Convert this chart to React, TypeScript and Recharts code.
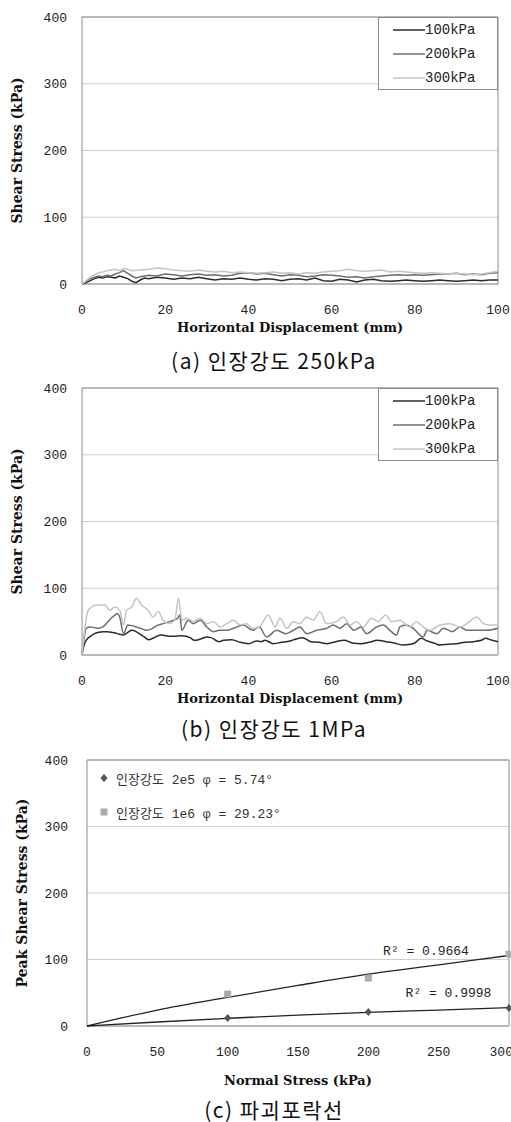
import React from "react";
import {
  LineChart,
  ComposedChart,
  Line,
  Scatter,
  XAxis,
  YAxis,
  CartesianGrid,
  ReferenceArea,
  ReferenceDot,
  Legend,
  Label,
} from "recharts";

const MONO = '"Liberation Mono", "DejaVu Sans Mono", monospace';
const SERIF = '"DejaVu Serif", "Liberation Serif", serif';
const KR = '"Noto Sans CJK KR", "Noto Sans", sans-serif';

// axis ticks
const displacementTicks = [0, 20, 40, 60, 80, 100];
const stressTicks = [0, 100, 200, 300, 400];
const normalStressTicks = [0, 50, 100, 150, 200, 250, 300];

const normalLoads = ["100kPa", "200kPa", "300kPa"];
const loadColors = ["#2b2b2b", "#6e6e6e", "#c4c4c4"];

// (a) tensile strength 250kPa : [displacement mm, shear stress kPa]
const t250_100: [number, number][] = [
  [0, 0], [1, 2], [2, 5], [3, 8], [4, 10], [5, 9], [6, 11], [7, 10], [8, 9], [9, 12],
  [10, 10], [11, 8], [12, 4], [13, 2], [14, 6], [15, 9], [16, 8], [18, 10], [20, 9],
  [22, 7], [24, 9], [26, 8], [28, 10], [30, 8], [32, 6], [34, 8], [36, 7], [38, 9],
  [40, 7], [42, 6], [44, 8], [46, 7], [48, 5], [50, 7], [52, 8], [54, 6], [56, 9],
  [58, 5], [60, 4], [62, 7], [64, 6], [66, 3], [68, 6], [70, 7], [72, 5], [74, 4],
  [76, 5], [78, 6], [80, 5], [82, 4], [84, 5], [86, 6], [88, 5], [90, 4], [92, 5],
  [94, 6], [96, 5], [98, 6], [100, 6],
];
const t250_200: [number, number][] = [
  [0, 0], [1, 4], [2, 8], [3, 10], [4, 12], [5, 11], [6, 13], [7, 12], [8, 15], [9, 17],
  [10, 20], [11, 16], [12, 12], [13, 9], [14, 11], [15, 12], [16, 13], [18, 12], [20, 15],
  [22, 14], [24, 12], [26, 14], [28, 15], [30, 13], [32, 14], [34, 12], [36, 13], [38, 16],
  [40, 17], [42, 15], [44, 16], [46, 14], [48, 12], [50, 14], [52, 13], [54, 11], [56, 12],
  [58, 14], [60, 13], [62, 12], [64, 10], [66, 11], [68, 9], [70, 11], [72, 12], [74, 13],
  [76, 14], [78, 13], [80, 14], [82, 13], [84, 14], [86, 15], [88, 15], [90, 16], [92, 14],
  [94, 15], [96, 14], [98, 16], [100, 17],
];
const t250_300: [number, number][] = [
  [0, 0], [1, 5], [2, 10], [3, 14], [4, 17], [5, 18], [6, 20], [7, 21], [8, 22], [9, 20],
  [10, 23], [11, 22], [12, 20], [14, 21], [16, 22], [18, 24], [20, 23], [22, 21], [24, 20],
  [26, 19], [28, 21], [30, 19], [32, 18], [34, 19], [36, 17], [38, 18], [40, 17], [42, 16],
  [44, 17], [46, 18], [48, 16], [50, 17], [52, 15], [54, 17], [56, 16], [58, 18], [60, 19],
  [62, 20], [64, 22], [66, 20], [68, 19], [70, 20], [72, 21], [74, 18], [76, 19], [78, 18],
  [80, 17], [82, 16], [84, 17], [86, 16], [88, 15], [90, 16], [92, 15], [94, 14], [96, 15],
  [98, 17], [100, 19],
];

// (b) tensile strength 1MPa
const t1m_100: [number, number][] = [
  [0, 0], [0.5, 15], [1, 22], [2, 28], [3, 32], [4, 34], [5, 35], [6, 35], [7, 34], [8, 33],
  [9, 31], [10, 30], [11, 34], [12, 37], [13, 35], [14, 31], [15, 27], [16, 23], [17, 25],
  [18, 28], [19, 30], [20, 29], [22, 28], [24, 29], [26, 26], [27, 22], [28, 23], [29, 25],
  [30, 27], [31, 26], [33, 20], [34, 22], [36, 23], [38, 19], [40, 17], [42, 21], [43, 20],
  [44, 22], [46, 17], [48, 19], [50, 21], [51, 23], [53, 26], [55, 20], [57, 19], [59, 17],
  [61, 20], [63, 22], [65, 18], [67, 17], [69, 19], [71, 22], [73, 20], [75, 18], [77, 15],
  [79, 16], [80, 18], [81.5, 25], [83, 21], [85, 17], [86, 15], [88, 16], [90, 17], [92, 19],
  [94, 20], [96, 22], [97, 25], [98.5, 22], [100, 20],
];
const t1m_200: [number, number][] = [
  [0, 0], [0.5, 25], [1, 40], [2, 42], [3, 41], [4, 40], [5, 42], [6, 48], [7, 55], [8, 60],
  [8.5, 62], [9, 58], [10, 32], [11, 45], [12, 44], [13, 42], [14, 40], [15.5, 37], [17, 40],
  [18, 44], [19.5, 47], [21, 50], [22, 52], [23, 55], [23.5, 60], [24, 37], [25.5, 52],
  [26.8, 47], [28.4, 52], [30, 42], [31.6, 35], [33, 37], [34.8, 37], [36.4, 40], [38.8, 45],
  [41, 37], [42.6, 42], [44.4, 27], [46.8, 37], [49, 32], [50.8, 37], [52.4, 42], [54, 32],
  [56.4, 37], [58.8, 40], [60.4, 45], [62, 40], [63.6, 47], [65.4, 37], [67, 42], [68.4, 32],
  [70.8, 42], [72.4, 45], [74, 37], [75.6, 30], [76.4, 42], [78, 45], [79.6, 40], [82, 27],
  [83, 37], [85.3, 32], [86.9, 40], [89, 35], [90.9, 42], [92.5, 37], [94.9, 37], [97.3, 37],
  [100, 40],
];
const t1m_300: [number, number][] = [
  [0, 0], [0.5, 30], [1.5, 67], [3.5, 75], [5.5, 75], [6.7, 67], [7.9, 72], [9.1, 67], [10, 45],
  [10.7, 67], [12, 72], [13.1, 85], [14.3, 75], [15.9, 67], [17.1, 57], [18.3, 65], [19.5, 52],
  [21, 47], [22.3, 52], [23.2, 85], [24, 52], [25.2, 55], [26.8, 50], [28.4, 55], [30, 47],
  [31.6, 50], [33.2, 42], [34.8, 47], [36.4, 52], [38, 45], [39.6, 47], [41, 40], [42.6, 42],
  [44.8, 60], [46.4, 42], [47.6, 55], [49.2, 40], [50.8, 50], [52.4, 47], [54, 57], [55.6, 52],
  [57.2, 65], [58.8, 47], [61.2, 50], [62.8, 57], [64.4, 45], [66, 50], [67.6, 42], [69.6, 55],
  [71.2, 50], [73, 60], [74.4, 50], [76.4, 52], [78.8, 42], [80.4, 50], [82, 42], [83.6, 37],
  [86, 45], [88.5, 47], [90.9, 42], [92.5, 47], [94.9, 57], [96.5, 47], [98, 45], [100, 45],
];

// (c) failure envelope : [normal stress kPa, peak shear stress kPa]
const envelopeNames = ["인장강도 2e5 φ = 5.74°", "인장강도 1e6 φ = 29.23°"];
const peaks2e5: [number, number][] = [[100, 12], [200, 21], [300, 27]];
const peaks1e6: [number, number][] = [[100, 48], [200, 72], [300, 108]];
const trend2e5: [number, number][] = [[0, 0], [50, 6], [100, 11.5], [150, 16.5], [200, 20.5], [250, 24], [300, 27.5]];
const trend1e6: [number, number][] = [[0, 0], [50, 24], [100, 43], [150, 61], [200, 78], [250, 92], [300, 106]];
const rSquared = ["R² = 0.9998", "R² = 0.9664"];

const toPts = (arr: [number, number][]) => arr.map(([x, y]) => ({ x, y }));

const tickStyle = { fontFamily: MONO, fontSize: 13, fill: "#222" };
const titleStyle = { fontFamily: SERIF, fontSize: 13, fontWeight: 700, fill: "#111" };

const LoadLegend = () => (
  <div
    style={{
      width: 120,
      height: 73,
      border: "1px solid #8c8c8c",
      boxSizing: "border-box",
      background: "#fff",
      position: "relative",
    }}
  >
    {normalLoads.map((name, i) => (
      <div
        key={name}
        style={{
          position: "absolute",
          left: 14,
          top: 12 + i * 24 - 9,
          height: 18,
          display: "flex",
          alignItems: "center",
          fontFamily: MONO,
          fontSize: 14,
          color: "#222",
        }}
      >
        <svg width={32} height={4}>
          <line x1={0} y1={2} x2={32} y2={2} stroke={loadColors[i]} strokeWidth={1.5} />
        </svg>
        <span>{name}</span>
      </div>
    ))}
  </div>
);

const ShearPanel = ({
  series,
  top,
  curve,
}: {
  series: [number, number][][];
  top: number;
  curve: "linear" | "monotone";
}) => (
  <div style={{ position: "absolute", left: 0, top }}>
    <LineChart width={511} height={340} margin={{ top: 17, right: 13, left: 0, bottom: 0 }}>
      <CartesianGrid vertical={false} stroke="#cfcfcf" />
      <XAxis
        type="number"
        dataKey="x"
        domain={[0, 100]}
        ticks={displacementTicks}
        height={56}
        axisLine={false}
        tickLine={false}
        tickSize={0}
        tickMargin={21}
        tick={tickStyle}
      >
        <Label value="Horizontal Displacement (mm)" position="insideBottom" offset={8} style={titleStyle} />
      </XAxis>
      <YAxis
        type="number"
        domain={[0, 400]}
        ticks={stressTicks}
        width={82}
        axisLine={false}
        tickLine={false}
        tickSize={0}
        tickMargin={15}
        tick={tickStyle}
      >
        <Label
          value="Shear Stress (kPa)"
          angle={-90}
          position="insideLeft"
          offset={17}
          style={{ ...titleStyle, fontSize: 14, textAnchor: "middle" }}
        />
      </YAxis>
      <ReferenceArea x1={0} x2={100} y1={0} y2={400} fill="none" fillOpacity={0} stroke="#8c8c8c" />
      {series.map((s, i) => (
        <Line
          key={normalLoads[i]}
          data={toPts(s)}
          dataKey="y"
          name={normalLoads[i]}
          type={curve}
          stroke={loadColors[i]}
          strokeWidth={1.5}
          dot={false}
          isAnimationActive={false}
        />
      ))}
      <Legend
        layout="horizontal"
        align="center"
        verticalAlign="middle"
        wrapperStyle={{ left: 378, top: 17, width: 120, height: 73 }}
        content={() => <LoadLegend />}
      />
    </LineChart>
  </div>
);

const Diamond = (p: any) => (
  <path d={`M${p.cx},${p.cy - 4}L${p.cx + 3.5},${p.cy}L${p.cx},${p.cy + 4}L${p.cx - 3.5},${p.cy}Z`} fill="#555" />
);
const Square = (p: any) => <rect x={p.cx - 3.5} y={p.cy - 3.5} width={7} height={7} fill="#ababab" />;

const EnvelopeLegend = () => (
  <div style={{ fontFamily: MONO, fontSize: 13, color: "#333" }}>
    {envelopeNames.map((name, i) => (
      <div key={name} style={{ display: "flex", alignItems: "center", height: 18, marginBottom: i === 0 ? 16 : 0 }}>
        <svg width={18} height={10}>
          {i === 0 ? (
            <path d="M6,1L9.5,5L6,9L2.5,5Z" fill="#555" />
          ) : (
            <rect x={2.5} y={1.5} width={7} height={7} fill="#ababab" />
          )}
        </svg>
        <span style={{ fontFamily: `${MONO}, ${KR}` }}>{name}</span>
      </div>
    ))}
  </div>
);

const EnvelopePanel = ({ top }: { top: number }) => (
  <div style={{ position: "absolute", left: 0, top }}>
    <ComposedChart width={511} height={353} margin={{ top: 17, right: 2, left: 0, bottom: 0 }}>
      <CartesianGrid vertical={false} stroke="#cfcfcf" />
      <XAxis
        type="number"
        dataKey="x"
        domain={[0, 300]}
        ticks={normalStressTicks}
        height={70}
        axisLine={false}
        tickLine={false}
        tickSize={0}
        tickMargin={21}
        tick={tickStyle}
      >
        <Label value="Normal Stress (kPa)" position="insideBottom" offset={11} style={titleStyle} />
      </XAxis>
      <YAxis
        type="number"
        domain={[0, 400]}
        ticks={stressTicks}
        width={87}
        axisLine={false}
        tickLine={false}
        tickSize={0}
        tickMargin={19}
        tick={tickStyle}
      >
        <Label
          value="Peak Shear Stress (kPa)"
          angle={-90}
          position="insideLeft"
          offset={22}
          style={{ ...titleStyle, fontSize: 14, textAnchor: "middle" }}
        />
      </YAxis>
      <ReferenceArea x1={0} x2={300} y1={0} y2={400} fill="none" fillOpacity={0} stroke="#8c8c8c" />
      <Line data={toPts(trend2e5)} dataKey="y" type="monotone" stroke="#222" strokeWidth={1.3} dot={false} isAnimationActive={false} />
      <Line data={toPts(trend1e6)} dataKey="y" type="monotone" stroke="#222" strokeWidth={1.3} dot={false} isAnimationActive={false} />
      <Scatter data={toPts(peaks2e5)} dataKey="y" shape={Diamond} isAnimationActive={false} />
      <Scatter data={toPts(peaks1e6)} dataKey="y" shape={Square} isAnimationActive={false} />
      <ReferenceDot x={257} y={50} r={0} fill="none" stroke="none">
        <Label value={rSquared[0]} position="center" style={{ fontFamily: MONO, fontSize: 13, fill: "#222" }} />
      </ReferenceDot>
      <ReferenceDot x={241} y={114} r={0} fill="none" stroke="none">
        <Label value={rSquared[1]} position="center" style={{ fontFamily: MONO, fontSize: 13, fill: "#222" }} />
      </ReferenceDot>
      <Legend
        layout="horizontal"
        align="center"
        verticalAlign="middle"
        wrapperStyle={{ left: 98, top: 26, width: 260 }}
        content={() => <EnvelopeLegend />}
      />
    </ComposedChart>
  </div>
);

const Caption = ({ text, centerY }: { text: string; centerY: number }) => (
  <div
    style={{
      position: "absolute",
      left: 74,
      width: 400,
      top: centerY - 11,
      height: 22,
      lineHeight: "22px",
      textAlign: "center",
      fontFamily: KR,
      fontSize: 21,
      fontWeight: 400,
      letterSpacing: 1.5,
      color: "#111",
    }}
  >
    {text}
  </div>
);

export default function App() {
  return (
    <div style={{ position: "absolute", left: 0, top: 0, width: 511, height: 1122, background: "#fff" }}>
      <ShearPanel series={[t250_100, t250_200, t250_300]} top={0} curve="linear" />
      <Caption text="(a) 인장강도 250kPa" centerY={360} />
      <ShearPanel series={[t1m_100, t1m_200, t1m_300]} top={371} curve="monotone" />
      <Caption text="(b) 인장강도 1MPa" centerY={728} />
      <EnvelopePanel top={743} />
      <Caption text="(c) 파괴포락선" centerY={1109} />
    </div>
  );
}
